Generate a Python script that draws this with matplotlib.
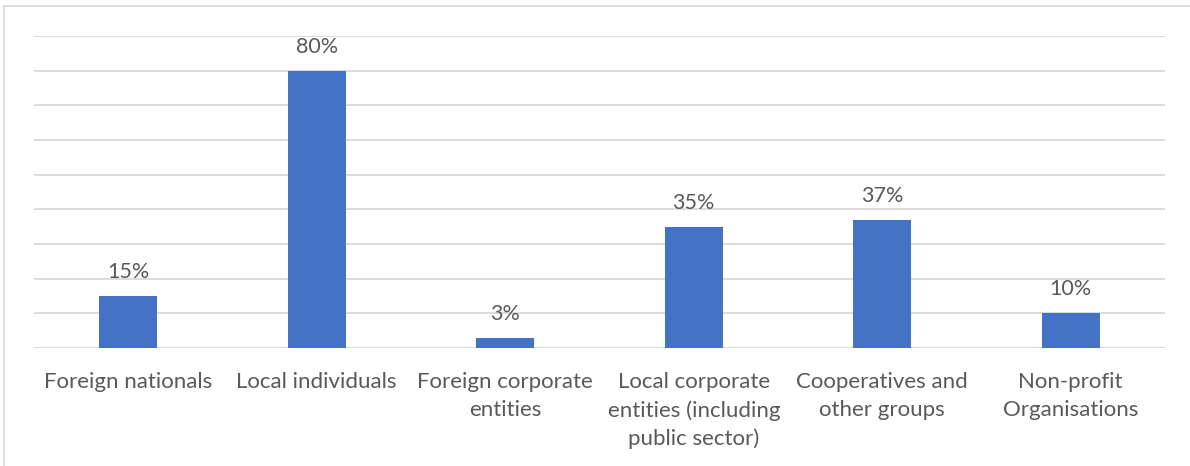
import matplotlib.pyplot as plt
from matplotlib.patches import Rectangle

categories = [
    "Foreign nationals",
    "Local individuals",
    "Foreign corporate\nentities",
    "Local corporate\nentities (including\npublic sector)",
    "Cooperatives and\nother groups",
    "Non-profit\nOrganisations",
]
shares = [15, 80, 3, 35, 37, 10]

BAR = "#4472C4"
GRID = "#D9D9D9"
TXT = "#595959"

plt.rcParams["font.family"] = ["Lato", "DejaVu Sans"]

W, H = 1190, 466
fig = plt.figure(figsize=(W / 100, H / 100), dpi=100)
ax = fig.add_axes([34 / W, (H - 348) / H, (1165 - 34) / W, (348 - 36) / H])

x = range(len(categories))
ax.bar(x, shares, width=0.31, color=BAR, zorder=3)
for xi, v in zip(x, shares):
    ax.annotate(f"{v}%", (xi, v), xytext=(0, 10), textcoords="offset points",
                ha="center", va="bottom", fontsize=15.5, color=TXT)

ax.set_xlim(-0.5, len(categories) - 0.5)
ax.set_ylim(0, 90)
ax.set_yticks(range(0, 91, 10))
ax.set_yticklabels([])
ax.tick_params(axis="y", length=0)
ax.tick_params(axis="x", length=0, pad=17)
ax.set_xticks(list(x))
ax.set_xticklabels(categories, fontsize=16, color=TXT, linespacing=1.5, va="top")
ax.grid(True, axis="y", color=GRID, linewidth=1.3, zorder=0)
for s in ax.spines.values():
    s.set_visible(False)

fig.patches.append(Rectangle((4 / W, -0.1), 1.2, (H - 6) / H + 0.1,
                             transform=fig.transFigure, fill=False,
                             edgecolor=GRID, linewidth=1.2))

fig.savefig("out.png", dpi=100, facecolor="white")
